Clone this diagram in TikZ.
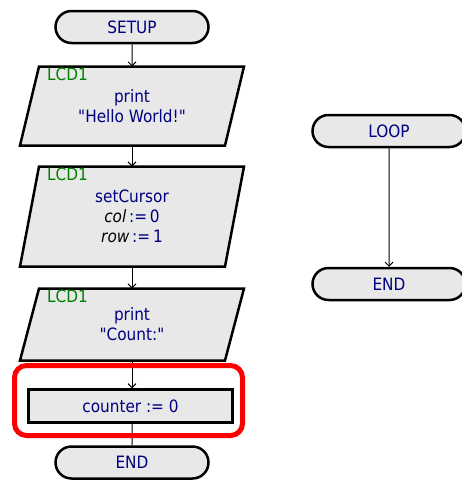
\documentclass[tikz,border=0pt]{standalone}
\usepackage{fontspec}
\setmainfont{DejaVu Sans Condensed}[Ligatures=TeXOff]
\usetikzlibrary{shapes.misc,arrows.meta,backgrounds}
\definecolor{boxfill}{RGB}{232,232,232}
\definecolor{textblue}{RGB}{0,0,128}
\definecolor{devgreen}{RGB}{0,128,0}
\tikzset{
  term/.style={rounded rectangle, draw, line width=2.5pt, fill=boxfill,
    minimum width=153pt, minimum height=32pt, inner sep=0pt, text=textblue},
  iobox/.style={rectangle, minimum width=205pt, inner sep=0pt, outer sep=0pt,
    text=textblue, align=center},
  ioline/.style={draw, line width=2.5pt, fill=boxfill, line join=miter},
  procbox/.style={rectangle, draw, line width=2.5pt, fill=boxfill,
    minimum width=204pt, minimum height=33pt, inner sep=0pt, text=textblue},
  devlabel/.style={text=devgreen, inner sep=0pt, anchor=north west},
  flow/.style={line width=1pt, -{Straight Barb[length=4pt,width=8pt]}},
  link/.style={line width=1pt}
}
% slanted outline behind an iobox node
\newcommand{\ioshape}[1]{%
  \path[ioline] ([xshift=9.5pt]#1.north west) -- ([xshift=9.5pt]#1.north east)
    -- ([xshift=-9.5pt]#1.south east) -- ([xshift=-9.5pt]#1.south west) -- cycle;}

\begin{document}
\begin{tikzpicture}[x=1pt, y=-1pt, font=\fontsize{17}{20}\selectfont]
  \useasboundingbox (0,0) rectangle (461,482);
  % --- setup routine ---------------------------------------------------
  \node[term] (setup) at (132,27) {SETUP};
  \node[iobox, minimum height=79pt] (prtA) at (132,106) {print\\"Hello World!"};
  \node[iobox, minimum height=100pt] (cursor) at (132,216.5)
        {setCursor\\{\color{black}\itshape col}\,:=\,0\\{\color{black}\itshape row}\,:=\,1};
  \node[iobox, minimum height=72pt] (prtB) at (132,324.5) {print\\"Count:"};
  \node[procbox] (calc) at (130.5,406) {counter := 0};
  \node[term] (endA) at (132,462.5) {END};
  \node[devlabel] (lcdA) at ([shift={(17.5,1.5)}]prtA.north west) {LCD1};
  \node[devlabel] (lcdB) at ([shift={(17.5,1.5)}]cursor.north west) {LCD1};
  \node[devlabel] (lcdC) at ([shift={(17.5,1.5)}]prtB.north west) {LCD1};
  \begin{scope}[on background layer]
    \ioshape{prtA} \ioshape{cursor} \ioshape{prtB}
  \end{scope}
  \draw[flow] (setup) -- (prtA);
  \draw[flow] (prtA) -- (cursor);
  \draw[flow] (cursor) -- (prtB);
  \draw[flow] (prtB.south) -- (prtB.south |- calc.north);
  \draw[link] (calc.south -| endA) -- (endA);
  % --- loop routine ----------------------------------------------------
  \node[term] (loop) at (389,131) {LOOP};
  \node[term] (endB) at (389,284) {END};
  \draw[flow] (loop) -- (endB);
  % highlight
  \draw[red, line width=5pt, rounded corners=12pt] (14.5,365.5) rectangle (242.5,435.5);
\end{tikzpicture}
\end{document}
